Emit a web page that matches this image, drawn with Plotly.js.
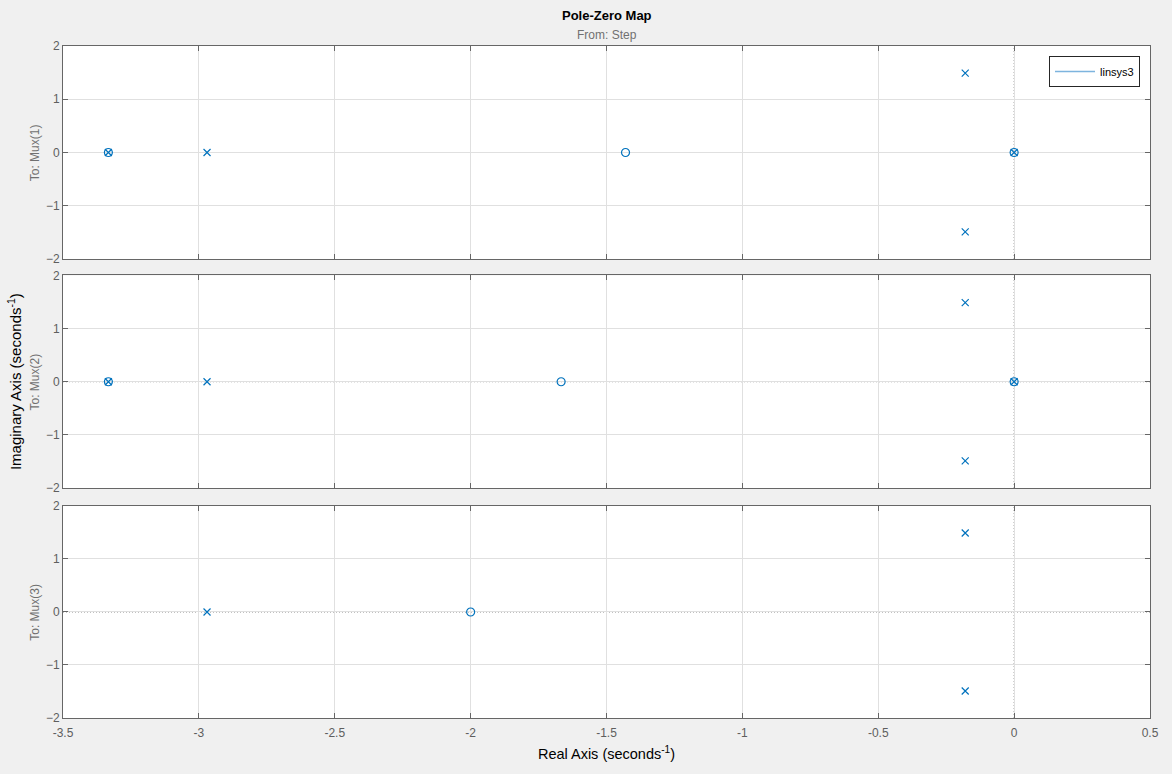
<!DOCTYPE html>
<html><head><meta charset="utf-8">
<script src="https://cdn.plot.ly/plotly-3.0.1.min.js"></script>
<style>html,body{margin:0;padding:0;background:#f0f0f0;}</style>
</head><body>
<div id="chart" style="width:1172px;height:774px;"></div>
<script>
// Data
const xTicks = [-3.5, -3, -2.5, -2, -1.5, -1, -0.5, 0, 0.5];
const xTickLabels = ['-3.5', '-3', '-2.5', '-2', '-1.5', '-1', '-0.5', '0', '0.5'];
const yTicks = [-2, -1, 0, 1, 2];
const outputs = ['To: Mux(1)', 'To: Mux(2)', 'To: Mux(3)'];

const poles1Re = [-3.333, -2.97, -0.18, -0.18, 0];
const poles1Im = [0, 0, 1.49, -1.49, 0];
const zeros1Re = [-3.333, -1.43, 0];
const zeros1Im = [0, 0, 0];

const poles2Re = [-3.333, -2.97, -0.18, -0.18, 0];
const poles2Im = [0, 0, 1.49, -1.49, 0];
const zeros2Re = [-3.333, -1.667, 0];
const zeros2Im = [0, 0, 0];

const poles3Re = [-2.97, -0.18, -0.18];
const poles3Im = [0, 1.49, -1.49];
const zeros3Re = [-2.0];
const zeros3Im = [0];

const sysName = 'linsys3';

const blue = '#0072BD';
const font = 'Liberation Sans, Arial, Helvetica, sans-serif';
const tickGray = '#5e5e5e';

const poles = [[poles1Re, poles1Im], [poles2Re, poles2Im], [poles3Re, poles3Im]];
const zeros = [[zeros1Re, zeros1Im], [zeros2Re, zeros2Im], [zeros3Re, zeros3Im]];

const traces = [];
for (let i = 0; i < 3; i++) {
  const xa = i === 0 ? 'x' : 'x' + (i + 1);
  const ya = i === 0 ? 'y' : 'y' + (i + 1);
  traces.push({x: poles[i][0], y: poles[i][1], xaxis: xa, yaxis: ya, type: 'scatter', mode: 'markers',
    marker: {symbol: 'x-thin-open', size: 7, color: blue, line: {color: blue, width: 1.2}}, showlegend: false, hoverinfo: 'x+y'});
  traces.push({x: zeros[i][0], y: zeros[i][1], xaxis: xa, yaxis: ya, type: 'scatter', mode: 'markers',
    marker: {symbol: 'circle-open', size: 8, color: blue, line: {color: blue, width: 1.2}}, showlegend: false, hoverinfo: 'x+y'});
}
traces.push({x: [null], y: [null], type: 'scatter', mode: 'lines', name: sysName,
  line: {color: '#7db4de', width: 1.5}, showlegend: true});

const domains = [[0.6830, 1.0], [0.3423, 0.6585], [0.0, 0.3155]];
const layout = {
  width: 1172, height: 774,
  paper_bgcolor: '#f0f0f0', plot_bgcolor: '#ffffff',
  margin: {l: 63, r: 22, t: 46, b: 56},
  font: {family: font, size: 12, color: tickGray},
  showlegend: true,
  legend: {x: 0.9908, y: 0.985, xanchor: 'right', yanchor: 'top', bgcolor: '#ffffff',
    bordercolor: '#262626', borderwidth: 1, font: {family: font, size: 11, color: '#000'},
    tracegroupgap: 0, itemwidth: 40},
  shapes: [], annotations: []
};
for (let i = 0; i < 3; i++) {
  const sfx = i === 0 ? '' : (i + 1);
  layout['xaxis' + sfx] = {
    domain: [0, 1], anchor: 'y' + sfx, range: [-3.5, 0.5],
    tickvals: xTicks, ticktext: xTickLabels, showticklabels: i === 2,
    ticks: 'inside', ticklen: 5, tickcolor: '#666', tickwidth: 1,
    showline: true, linecolor: '#666', linewidth: 1, mirror: 'ticks',
    showgrid: true, gridcolor: '#e0e0e0', zeroline: false, ticklabelstandoff: 4,
    tickfont: {family: font, size: 12, color: tickGray}, fixedrange: true
  };
  if (i > 0) layout['xaxis' + sfx].matches = 'x';
  layout['yaxis' + sfx] = {
    domain: domains[i], anchor: 'x' + sfx, range: [-2, 2],
    tickvals: yTicks, ticks: 'inside', ticklen: 5, tickcolor: '#666', tickwidth: 1,
    showline: true, linecolor: '#666', linewidth: 1, mirror: 'ticks',
    showgrid: true, gridcolor: '#e0e0e0', zeroline: false,
    tickfont: {family: font, size: 12, color: tickGray}, fixedrange: true
  };
  const xr = 'x' + sfx, yr = 'y' + sfx;
  layout.shapes.push({type: 'line', xref: xr, yref: yr, x0: -3.5, x1: 0.5, y0: 0, y1: 0,
    line: {color: '#808080', width: 1, dash: '1px,2px'}, layer: 'below'});
  layout.shapes.push({type: 'line', xref: xr, yref: yr, x0: 0, x1: 0, y0: -2, y1: 2,
    line: {color: '#808080', width: 1, dash: '1px,2px'}, layer: 'below'});
  layout.annotations.push({text: outputs[i], xref: 'paper', yref: 'paper', x: -0.026,
    y: (domains[i][0] + domains[i][1]) / 2, xanchor: 'center', yanchor: 'middle',
    textangle: -90, showarrow: false, font: {family: font, size: 12, color: '#707070'}});
}
layout.xaxis3.title = {text: 'Real Axis (seconds<sup>-1</sup>)', font: {family: font, size: 14.5, color: '#000'}, standoff: 9};
layout.annotations.push({text: '<b>Pole-Zero Map</b>', xref: 'paper', yref: 'paper', x: 0.5, y: 1, yshift: 31,
  xanchor: 'center', yanchor: 'middle', showarrow: false, font: {family: font, size: 13, color: '#000'}});
layout.annotations.push({text: 'From: Step', xref: 'paper', yref: 'paper', x: 0.5, y: 1, yshift: 11,
  xanchor: 'center', yanchor: 'middle', showarrow: false, font: {family: font, size: 12, color: '#707070'}});
layout.annotations.push({text: 'Imaginary Axis (seconds<sup>-1</sup>)', xref: 'paper', yref: 'paper', x: -0.045, xanchor: 'center',
  y: 0.5, yanchor: 'middle', textangle: -90, showarrow: false, font: {family: font, size: 15, color: '#000'}});

Plotly.newPlot('chart', traces, layout, {displayModeBar: false, staticPlot: true});
</script>
</body></html>
